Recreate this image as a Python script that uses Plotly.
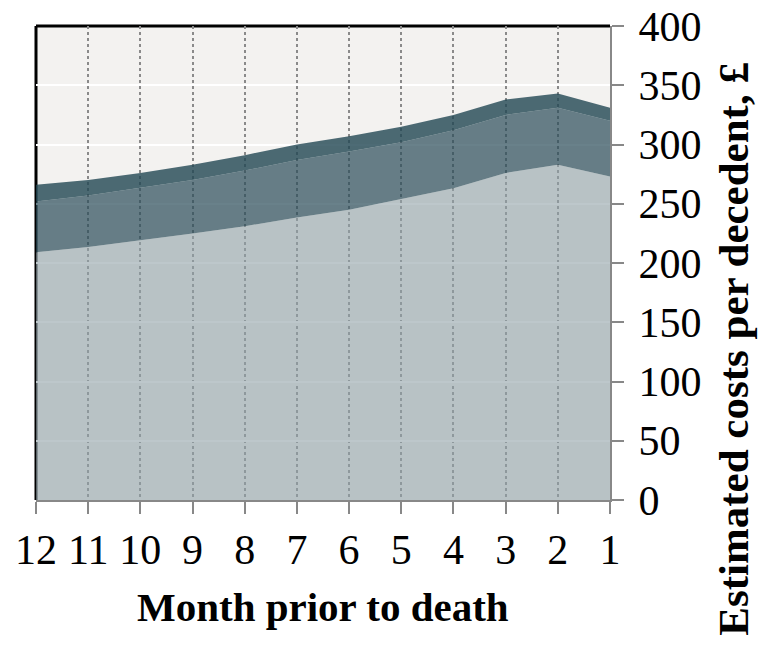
import plotly.graph_objects as go

months = [12, 11, 10, 9, 8, 7, 6, 5, 4, 3, 2, 1]
month_labels = ["12", "11", "10", "9", "8", "7", "6", "5", "4", "3", "2", "1"]
base_costs = [209, 213.5, 219, 225, 231, 238.5, 245, 254, 263, 276, 283, 273]
middle_costs = [43, 43.5, 44.5, 45, 47, 48.5, 49, 48, 49, 49, 48, 47]
top_costs = [14, 13, 12.5, 13, 13, 13, 13, 13, 13, 13, 12, 11]
y_ticks = [0, 50, 100, 150, 200, 250, 300, 350, 400]

FONT = "Liberation Serif"

fig = go.Figure()
series = [
    ("Component 1", base_costs, "rgba(145,162,168,0.6)"),
    ("Component 2", middle_costs, "rgba(42,75,89,0.7)"),
    ("Component 3", top_costs, "rgba(32,70,83,0.8)"),
]
for name, vals, col in series:
    fig.add_trace(go.Scatter(
        x=months, y=vals, name=name, mode="lines",
        stackgroup="one", line=dict(width=0, color=col), fillcolor=col,
        hoverinfo="x+y+name",
    ))

fig.update_layout(
    width=761, height=647,
    margin=dict(l=28, r=159, t=18, b=155),
    paper_bgcolor="white", plot_bgcolor="#F3F2F0",
    showlegend=False,
    font=dict(family=FONT, color="black", size=42),
    xaxis=dict(
        range=[12, 1], tickvals=months, ticktext=month_labels,
        showgrid=True, gridcolor="#8a8a8a", gridwidth=1.5, griddash="dot",
        showline=True, linecolor="#888888", linewidth=2,
        ticks="outside", ticklen=12, tickwidth=2, tickcolor="#888888",
        tickfont=dict(family=FONT, size=42, color="black"),
        ticklabeloverflow="allow",
        automargin=False, zeroline=False,
    ),
    yaxis=dict(
        side="right", range=[0, 400], tickvals=y_ticks,
        showgrid=True, gridcolor="white", gridwidth=2,
        showline=True, linecolor="#888888", linewidth=2,
        ticks="outside", ticklen=12, tickwidth=2, tickcolor="#888888",
        tickfont=dict(family=FONT, size=42, color="black"),
        ticklabelstandoff=6, ticklabeloverflow="allow",
        automargin=False, zeroline=False,
    ),
    annotations=[
        dict(text="<b>Month prior to death</b>", xref="paper", yref="paper",
             x=0.5, y=-0.226, xanchor="center", yanchor="middle", showarrow=False,
             font=dict(family=FONT, size=41, color="black")),
        dict(text="<b>Estimated costs per decedent, £</b>", xref="paper", yref="paper",
             x=1.215, y=0.32, xanchor="center", yanchor="middle", showarrow=False,
             textangle=-90, font=dict(family=FONT, size=43, color="black")),
    ],
    shapes=[
        dict(type="line", xref="paper", yref="paper", x0=0, x1=0, y0=0, y1=1,
             line=dict(color="black", width=3), layer="below"),
        dict(type="line", xref="paper", yref="paper", x0=0, x1=1, y0=1, y1=1,
             line=dict(color="black", width=3), layer="below"),
    ],
)

fig.write_html("out.html")
